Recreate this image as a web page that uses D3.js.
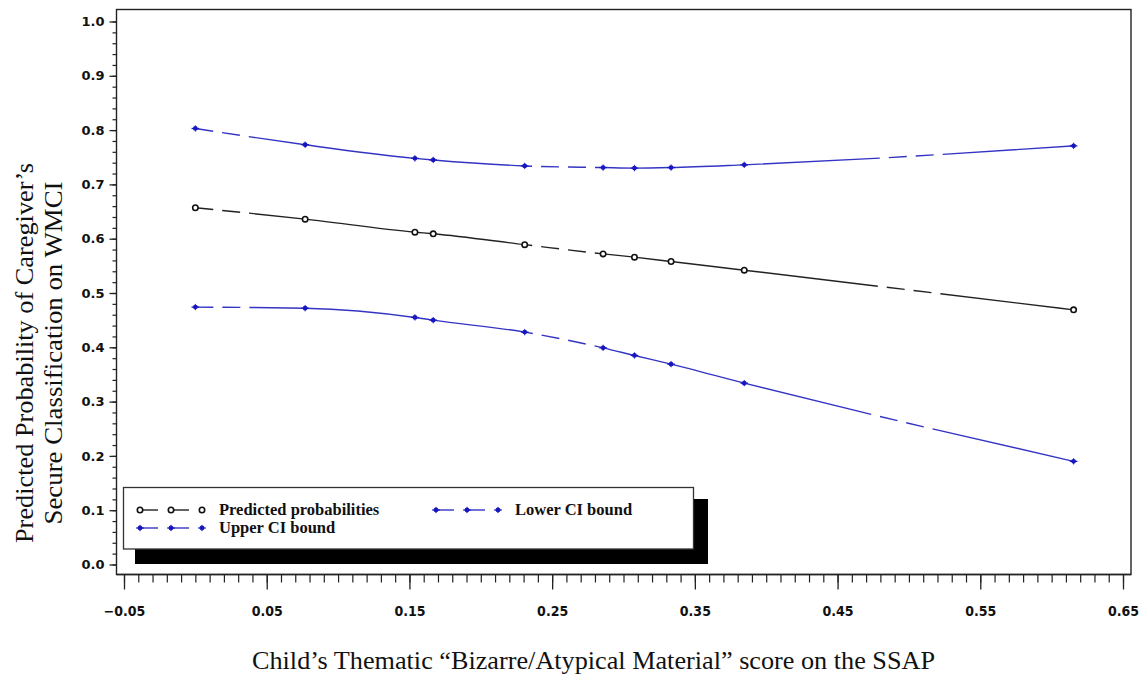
<!DOCTYPE html>
<html>
<head>
<meta charset="utf-8">
<script src="https://cdn.jsdelivr.net/npm/d3@7"></script>
<style>
  html, body { margin: 0; padding: 0; background: #fff; }
  svg { display: block; }
  .tick-y text { font-family: "DejaVu Sans", sans-serif; font-weight: bold; font-size: 13px; }
  .tick-x text { font-family: "DejaVu Sans Condensed", "DejaVu Sans", sans-serif; font-stretch: condensed; font-weight: bold; font-size: 14px; }
  .title { font-family: "Liberation Serif", "Times New Roman", serif; fill: #111; }
  .legend-label { font-family: "Liberation Serif", "Times New Roman", serif; font-weight: bold; font-size: 16.5px; fill: #111; }
</style>
</head>
<body>
<svg id="chart" width="1147" height="675"></svg>
<script>
// Thematic "Bizarre/Atypical Material" scores on the SSAP
const xScores = [0, 1/13, 2/13, 1/6, 3/13, 2/7, 4/13, 1/3, 5/13, 8/13];

// Predicted probability of a secure caregiver classification, with CI bounds
const predicted = [0.657, 0.636, 0.612, 0.609, 0.589, 0.572, 0.566, 0.558, 0.542, 0.469];
const upperCI   = [0.803, 0.773, 0.748, 0.745, 0.734, 0.731, 0.730, 0.731, 0.736, 0.771];
const lowerCI   = [0.474, 0.472, 0.455, 0.450, 0.428, 0.399, 0.385, 0.369, 0.334, 0.190];

const xTickValues = [-0.05, 0.05, 0.15, 0.25, 0.35, 0.45, 0.55, 0.65];
const yTickValues = [0.0, 0.1, 0.2, 0.3, 0.4, 0.5, 0.6, 0.7, 0.8, 0.9, 1.0];

const seriesNames = ["Predicted probabilities", "Upper CI bound", "Lower CI bound"];

const BLUE_LINE = "#3434c4";
const BLUE_MARK = "#1818c0";
const DASH = "18,9,18,9,285,9";

const svg = d3.select("#chart");

const x = d3.scaleLinear().domain([-0.05, 0.65]).range([124, 1123]);
const y = d3.scaleLinear().domain([0, 1]).range([564.5, 21.5]);

const frame = { left: 116.5, top: 9.5, right: 1131, bottom: 574.5 };

// plot frame
svg.append("rect")
  .attr("x", frame.left).attr("y", frame.top)
  .attr("width", frame.right - frame.left).attr("height", frame.bottom - frame.top)
  .attr("fill", "none").attr("stroke", "#222").attr("stroke-width", 1.4);

// x axis: minor ticks every 0.01, labelled majors every 0.1
const xMinor = d3.range(-5, 66).map(i => i / 100);
svg.append("g")
  .attr("transform", `translate(0,${frame.bottom})`)
  .call(d3.axisBottom(x).tickValues(xMinor).tickSize(8).tickFormat(""))
  .call(g => g.select(".domain").attr("d", `M${frame.left},0H${frame.right}`).attr("stroke", "#222").attr("stroke-width", 1.4))
  .call(g => g.selectAll(".tick line").attr("stroke", "#222").attr("stroke-width", 1.2));

svg.append("g")
  .attr("class", "tick-x")
  .attr("transform", `translate(0,${frame.bottom})`)
  .call(d3.axisBottom(x).tickValues(xTickValues).tickSize(15).tickPadding(17)
        .tickFormat(d => d3.format(".2f")(d).replace("-", "\u2212")))
  .call(g => g.select(".domain").remove())
  .call(g => g.selectAll(".tick line").attr("stroke", "#222").attr("stroke-width", 1.3))
  .call(g => g.selectAll(".tick text").attr("fill", "#111"));

// y axis: minor ticks every 0.02
const yMinor = d3.range(0, 51).map(i => i / 50);
svg.append("g")
  .attr("transform", `translate(${frame.left},0)`)
  .call(d3.axisLeft(y).tickValues(yMinor).tickSize(4).tickFormat(""))
  .call(g => g.select(".domain").remove())
  .call(g => g.selectAll(".tick line").attr("stroke", "#222").attr("stroke-width", 1.2));

svg.append("g")
  .attr("class", "tick-y")
  .attr("transform", `translate(${frame.left},0)`)
  .call(d3.axisLeft(y).tickValues(yTickValues).tickSize(7).tickPadding(5).tickFormat(d3.format(".1f")))
  .call(g => g.select(".domain").remove())
  .call(g => g.selectAll(".tick line").attr("stroke", "#222").attr("stroke-width", 1.3))
  .call(g => g.selectAll(".tick text").attr("fill", "#111"));

// series lines
const line = d3.line()
  .x(d => x(d[0]))
  .y(d => y(d[1]))
  .curve(d3.curveMonotoneX);

const series = [
  { values: predicted, color: "#222", mark: "#111", kind: "open" },
  { values: upperCI,   color: BLUE_LINE, mark: BLUE_MARK, kind: "star" },
  { values: lowerCI,   color: BLUE_LINE, mark: BLUE_MARK, kind: "star" }
];

function drawMarker(g, cx, cy, s) {
  if (s.kind === "open") {
    g.append("circle").attr("cx", cx).attr("cy", cy).attr("r", 2.7)
      .attr("fill", "#fff").attr("stroke", s.mark).attr("stroke-width", 1.6);
  } else {
    g.append("circle").attr("cx", cx).attr("cy", cy).attr("r", 2.4).attr("fill", s.mark);
    g.append("line").attr("x1", cx - 3.8).attr("x2", cx + 3.8).attr("y1", cy).attr("y2", cy)
      .attr("stroke", s.mark).attr("stroke-width", 1.3);
    g.append("line").attr("x1", cx).attr("x2", cx).attr("y1", cy - 3.2).attr("y2", cy + 3.2)
      .attr("stroke", s.mark).attr("stroke-width", 0.9);
  }
}

series.forEach(s => {
  const pts = xScores.map((v, i) => [v, s.values[i]]);
  svg.append("path")
    .attr("d", line(pts))
    .attr("fill", "none")
    .attr("stroke", s.color)
    .attr("stroke-width", 1.4)
    .attr("stroke-dasharray", DASH);
  const mg = svg.append("g");
  pts.forEach(p => drawMarker(mg, x(p[0]), y(p[1]), s));
});

// legend with drop shadow
const legend = svg.append("g");
legend.append("rect").attr("x", 135).attr("y", 499).attr("width", 573).attr("height", 65).attr("fill", "#000");
legend.append("rect").attr("x", 123.5).attr("y", 487.5).attr("width", 570).attr("height", 61.5)
  .attr("fill", "#fff").attr("stroke", "#333").attr("stroke-width", 1.3);

const legendItems = [
  { name: seriesNames[0], s: series[0], x0: 140, y0: 510 },
  { name: seriesNames[1], s: series[1], x0: 140, y0: 528 },
  { name: seriesNames[2], s: series[2], x0: 436, y0: 510 }
];
legendItems.forEach(item => {
  const g = legend.append("g");
  const xs = [item.x0, item.x0 + 31, item.x0 + 62];
  [[xs[0], xs[0] + 18], [xs[1], xs[1] + 18]].forEach(([a, b]) => {
    g.append("line").attr("x1", a).attr("x2", b).attr("y1", item.y0).attr("y2", item.y0)
      .attr("stroke", item.s.color).attr("stroke-width", 1.4);
  });
  xs.forEach(cx => drawMarker(g, cx, item.y0, item.s));
  g.append("text").attr("class", "legend-label")
    .attr("x", item.x0 + 79).attr("y", item.y0 + 5)
    .text(item.name);
});

// axis titles
svg.append("text").attr("class", "title")
  .attr("x", 252).attr("y", 669)
  .attr("font-size", 26)
  .attr("textLength", 683).attr("lengthAdjust", "spacingAndGlyphs")
  .text("Child\u2019s Thematic \u201cBizarre/Atypical Material\u201d score on the SSAP");

const yTitle = svg.append("g").attr("transform", "translate(0,353) rotate(-90)");
yTitle.append("text").attr("class", "title")
  .attr("x", 0).attr("y", 33).attr("text-anchor", "middle")
  .attr("font-size", 26)
  .attr("textLength", 380).attr("lengthAdjust", "spacingAndGlyphs")
  .text("Predicted Probability of Caregiver\u2019s");
yTitle.append("text").attr("class", "title")
  .attr("x", 0).attr("y", 62).attr("text-anchor", "middle")
  .attr("font-size", 26)
  .attr("textLength", 343).attr("lengthAdjust", "spacingAndGlyphs")
  .text("Secure Classification  on WMCI");
</script>
</body>
</html>
